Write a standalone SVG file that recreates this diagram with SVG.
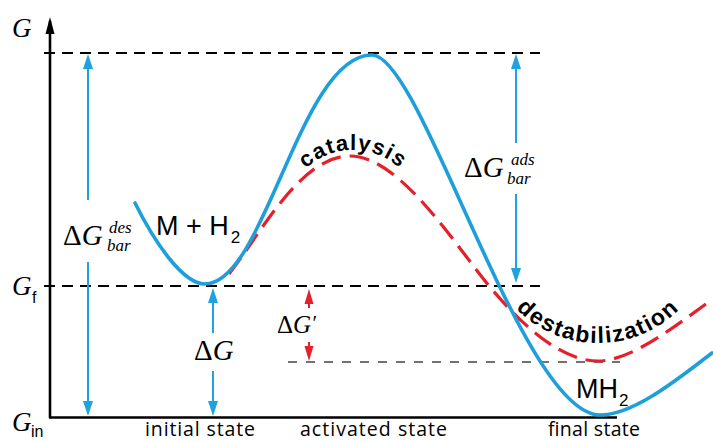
<svg xmlns="http://www.w3.org/2000/svg" width="713" height="442" viewBox="0 0 713 442">
<style>
.axis{stroke:#000;stroke-width:2.6;fill:none}
.dash{stroke:#000;stroke-width:2;stroke-dasharray:11 7;fill:none}
.gdash{stroke:#444;stroke-width:1.3;stroke-dasharray:9 9;fill:none}
.blue{stroke:#1e9fdc;stroke-width:3.6;fill:none;stroke-linecap:round}
.red{stroke:#e5202a;stroke-width:3.2;fill:none;stroke-dasharray:20 9}
.barr{stroke:#1ea3e0;stroke-width:2;fill:none}
.rarr{stroke:#e5202a;stroke-width:2;fill:none}
.math{font-family:"Liberation Serif","Times New Roman",serif;fill:#000}
.it{font-style:italic}
.sans{font-family:"Liberation Sans",Arial,sans-serif;fill:#000}
.lab{font-family:"Open Sans","Noto Sans",sans-serif;font-size:19.5px;fill:#000}
.bold{font-family:"Liberation Sans",Arial,sans-serif;font-weight:bold;fill:#000}
</style>
<defs>
<marker id="ab" markerUnits="userSpaceOnUse" markerWidth="16" markerHeight="10" refX="11" refY="5" orient="auto"><path d="M0,0 L15,5 L0,10 z" fill="#1ea3e0"/></marker>
<marker id="ar" markerUnits="userSpaceOnUse" markerWidth="16" markerHeight="10" refX="11" refY="5" orient="auto"><path d="M0,0.5 L15,5 L0,9.5 z" fill="#e5202a"/></marker>
<marker id="ak" markerUnits="userSpaceOnUse" markerWidth="18" markerHeight="10" refX="13" refY="5" orient="auto"><path d="M0,0.5 L17,5 L0,9.5 z" fill="#000"/></marker>
<path id="catP" d="M284,219 A69,69 0 0 1 422,219"/>
<path id="desP" d="M485,249.4 A115,115 0 0 0 711,249.4"/>
</defs>

<g id="axes">
<line class="axis" x1="50" y1="418" x2="50" y2="21" marker-end="url(#ak)"/>
<line class="axis" x1="49" y1="417.5" x2="617" y2="417.5"/>
</g>

<g id="levels">
<line class="dash" x1="44" y1="53" x2="540" y2="53"/>
<line class="dash" x1="44" y1="286" x2="540" y2="286"/>
<line class="gdash" x1="288" y1="362" x2="620" y2="362"/>
</g>

<g id="connectors">
<path id="red-path" class="red" d="M229,274 C260,235 300,156 350,156 C400,156 455,245 490,287 C525,329 563,361 598,361 C633,361 680,322 713,299"/>
<path id="blue-path" class="blue" d="M135,203 C155,243 183,284 205,284 C265,284 300,55 372,55 C422,55 522,415 600,415 C635,415 682,375.5 712,353"/>
<line class="barr" x1="88" y1="200" x2="88" y2="58" marker-end="url(#ab)"/>
<line class="barr" x1="88" y1="262" x2="88" y2="412" marker-end="url(#ab)"/>
<line class="barr" x1="213" y1="333" x2="213" y2="292" marker-end="url(#ab)"/>
<line class="barr" x1="213" y1="371" x2="213" y2="412" marker-end="url(#ab)"/>
<line class="barr" x1="516" y1="143" x2="516" y2="58" marker-end="url(#ab)"/>
<line class="barr" x1="516" y1="194" x2="516" y2="279" marker-end="url(#ab)"/>
<line class="rarr" x1="309" y1="308" x2="309" y2="293" marker-end="url(#ar)"/>
<line class="rarr" x1="309" y1="342" x2="309" y2="357" marker-end="url(#ar)"/>
</g>

<g id="axis-labels">
<text class="math it" x="12" y="37" font-size="27">G</text>
<text class="math it" x="12" y="295" font-size="27">G</text>
<text class="sans" x="32" y="303" font-size="16">f</text>
<text class="math it" x="12" y="431" font-size="27">G</text>
<text class="sans" x="31" y="437" font-size="16">in</text>
</g>

<g id="dG-des">
<text class="math" x="63" y="245" font-size="29">Δ<tspan class="it">G</tspan></text>
<text class="math it" x="109" y="233" font-size="17">des</text>
<text class="math it" x="107" y="251" font-size="17">bar</text>
</g>

<g id="dG">
<text class="math" x="194" y="360" font-size="29">Δ<tspan class="it">G</tspan></text>
</g>

<g id="dG-prime">
<text class="math" x="277" y="333" font-size="25">Δ<tspan class="it">G</tspan><tspan class="it" font-size="21" dy="-3">′</tspan></text>
</g>

<g id="dG-ads">
<text class="math" x="464" y="177" font-size="29">Δ<tspan class="it">G</tspan></text>
<text class="math it" x="511" y="165" font-size="17">ads</text>
<text class="math it" x="507" y="184" font-size="17">bar</text>
</g>

<g id="state-labels">
<text class="sans" x="156" y="235" font-size="27">M + H<tspan font-size="17" dx="2" dy="8">2</tspan></text>
<text class="sans" x="576" y="398" font-size="27">MH<tspan font-size="17" dx="1" dy="8">2</tspan></text>
<text class="bold" font-size="22" letter-spacing="1.2"><textPath href="#catP" startOffset="50%" text-anchor="middle">catalysis</textPath></text>
<text class="bold" font-size="23" letter-spacing="1.5"><textPath href="#desP" startOffset="50%" text-anchor="middle">destabilization</textPath></text>
</g>

<g id="x-labels">
<text class="lab" x="145" y="436" textLength="110" lengthAdjust="spacing">initial state</text>
<text class="lab" x="300" y="436" textLength="147" lengthAdjust="spacing">activated state</text>
<text class="lab" x="548" y="436" textLength="92" lengthAdjust="spacing">final state</text>
</g>
</svg>
